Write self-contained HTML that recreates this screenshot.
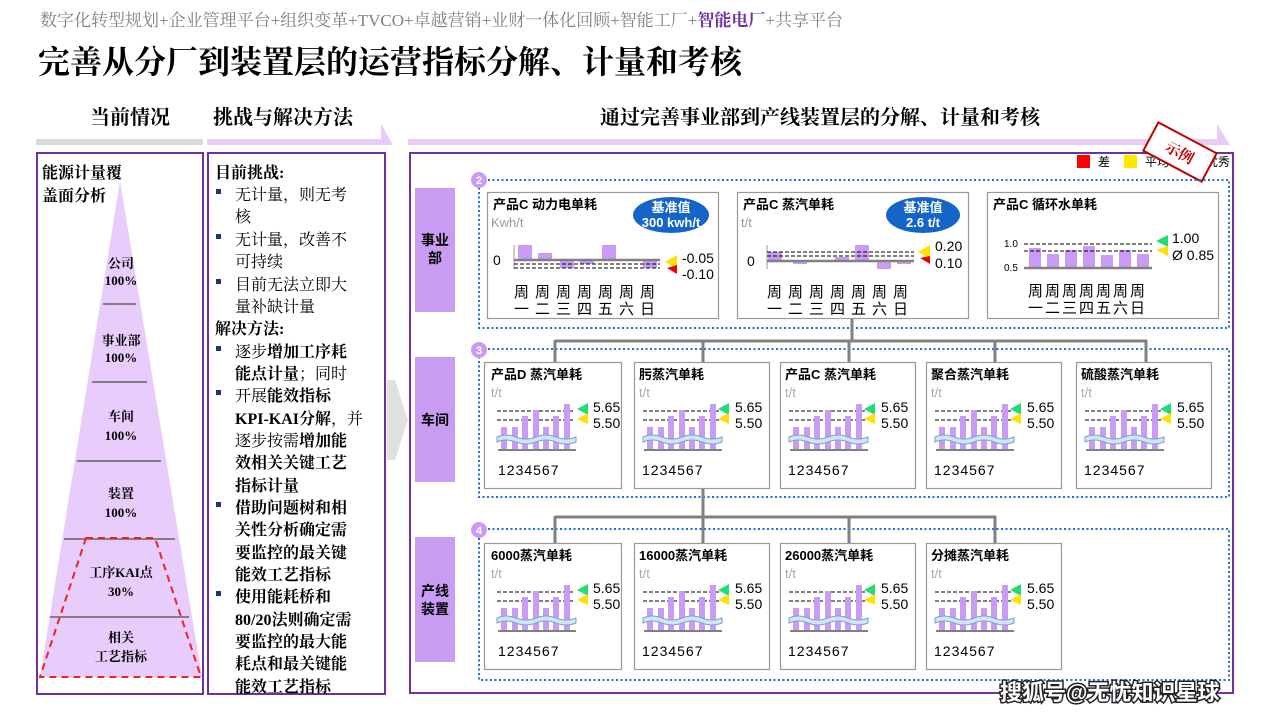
<!DOCTYPE html>
<html><head><meta charset="utf-8">
<style>
body{margin:0;width:1280px;height:720px;overflow:hidden;background:#fff;}
svg{display:block;}
.sf{font-family:"Liberation Serif","Noto Serif CJK SC",serif;}
.ss{font-family:"Liberation Sans","Noto Sans CJK SC",sans-serif;}
</style></head><body>
<svg width="1280" height="720" viewBox="0 0 1280 720" xmlns="http://www.w3.org/2000/svg">
<defs>
<g id="chart">
  <line x1="13" y1="49" x2="90" y2="49" stroke="#000" stroke-width="1" stroke-dasharray="4,2"/>
  <line x1="13" y1="58" x2="90" y2="58" stroke="#000" stroke-width="1" stroke-dasharray="4,2"/>
  <g fill="#c89cf5">
    <rect x="17" y="65" width="6" height="23"/><rect x="28" y="65" width="6" height="23"/>
    <rect x="38" y="54" width="6" height="34"/><rect x="49" y="48" width="6" height="40"/>
    <rect x="59" y="65" width="6" height="23"/><rect x="69" y="54" width="6" height="34"/>
    <rect x="80" y="42" width="6" height="46"/>
  </g>
  <path d="M13 75 Q22 71 32 75 T52 75 T72 75 T92 75 L92 80 Q82 84 72 80 T52 80 T32 80 T13 80 Z" fill="#cfe6f8" stroke="#7f9fc4" stroke-width="1"/>
  <line x1="14" y1="88" x2="92" y2="88" stroke="#808080" stroke-width="2"/>
</g>
<g id="tri">
  <polygon points="0,6 11,0 11,12" fill="#22dd77"/>
  <polygon points="0,16 11,10 11,21" fill="#ffe000"/>
</g>
<g id="mini">
  <rect x="0.5" y="0.5" width="137" height="126" fill="#fff" stroke="#999" stroke-width="1.2"/>
  <use href="#chart"/>
  <use href="#tri" x="93" y="41"/>
</g>
<g id="mini2">
  <rect x="0.5" y="0.5" width="135" height="126" fill="#fff" stroke="#999" stroke-width="1.2"/>
  <use href="#chart" x="-4"/>
  <use href="#tri" x="84" y="41"/>
</g>
</defs>

<!-- header -->
<text x="40" y="26" class="sf" font-size="17" fill="#808080">数字化转型规划+企业管理平台+组织变革+TVCO+卓越营销+业财一体化回顾+智能工厂+<tspan fill="#7030a0" font-weight="bold">智能电厂</tspan>+共享平台</text>
<text x="38" y="73" class="sf" font-size="32" font-weight="bold" fill="#000">完善从分厂到装置层的运营指标分解、计量和考核</text>

<text x="90" y="124" class="sf" font-size="20" font-weight="bold">当前情况</text>
<text x="213" y="124" class="sf" font-size="20" font-weight="bold">挑战与解决方法</text>
<text x="600" y="124" class="sf" font-size="20" font-weight="bold">通过完善事业部到产线装置层的分解、计量和考核</text>
<rect x="36" y="139" width="167" height="6" fill="#d9d9d9"/>
<polygon points="207,139 381,139 381,124 393,145 207,145" fill="#e8ccf8"/>
<polygon points="408,139 1217,139 1217,124 1230,145 408,145" fill="#e8ccf8"/>

<!-- left panel -->
<rect x="37" y="153" width="166" height="541" fill="#fff" stroke="#7030a0" stroke-width="2"/>
<text x="42" y="178" class="sf" font-size="16" font-weight="bold">能源计量覆</text>
<text x="42" y="201" class="sf" font-size="16" font-weight="bold">盖面分析</text>
<polygon points="120,181 40,677 202,677" fill="#e8ccfb"/>
<g stroke="#808080" stroke-width="2">
<line x1="103" y1="304" x2="136" y2="304"/><line x1="92" y1="382" x2="147" y2="382"/>
<line x1="77" y1="461" x2="161" y2="461"/><line x1="64" y1="539" x2="175" y2="539"/>
<line x1="50" y1="617" x2="189" y2="617"/>
</g>
<polygon points="86,538 155,538 201,677 40,677" fill="none" stroke="#ee2222" stroke-width="2" stroke-dasharray="7,5"/>
<g class="sf" font-size="13" font-weight="bold" text-anchor="middle">
<text x="121" y="268">公司</text><text x="121" y="285">100%</text>
<text x="121" y="345">事业部</text><text x="121" y="362">100%</text>
<text x="121" y="421">车间</text><text x="121" y="440">100%</text>
<text x="121" y="498">装置</text><text x="121" y="517">100%</text>
<text x="121" y="577">工序KAI点</text><text x="121" y="596">30%</text>
<text x="121" y="642">相关</text><text x="121" y="661">工艺指标</text>
</g>

<!-- middle panel -->
<rect x="208" y="153" width="177" height="541" fill="#fff" stroke="#7030a0" stroke-width="2"/>
<g class="sf" font-size="16">
<text x="215" y="178" font-weight="bold">目前挑战:</text>
<text x="235" y="200">无计量，则无考</text>
<text x="235" y="222">核</text>
<text x="235" y="245">无计量，改善不</text>
<text x="235" y="267">可持续</text>
<text x="235" y="290">目前无法立即大</text>
<text x="235" y="312">量补缺计量</text>
<text x="215" y="334" font-weight="bold">解决方法:</text>
<text x="235" y="357">逐步<tspan font-weight="bold">增加工序耗</tspan></text>
<text x="235" y="379"><tspan font-weight="bold">能点计量</tspan>；同时</text>
<text x="235" y="401">开展<tspan font-weight="bold">能效指标</tspan></text>
<text x="235" y="424" font-weight="bold">KPI-KAI分解<tspan font-weight="normal">，并</tspan></text>
<text x="235" y="446">逐步按需<tspan font-weight="bold">增加能</tspan></text>
<text x="235" y="468" font-weight="bold">效相关关键工艺</text>
<text x="235" y="491" font-weight="bold">指标计量</text>
<text x="235" y="513" font-weight="bold">借助问题树和相</text>
<text x="235" y="535" font-weight="bold">关性分析确定需</text>
<text x="235" y="558" font-weight="bold">要监控的最关键</text>
<text x="235" y="580" font-weight="bold">能效工艺指标</text>
<text x="235" y="602" font-weight="bold">使用能耗桥和</text>
<text x="235" y="625" font-weight="bold">80/20法则确定需</text>
<text x="235" y="647" font-weight="bold">要监控的最大能</text>
<text x="235" y="669" font-weight="bold">耗点和最关键能</text>
<text x="235" y="692" font-weight="bold">能效工艺指标</text>
</g>
<g fill="#1f3864">
<rect x="216" y="189" width="5" height="5"/><rect x="216" y="234" width="5" height="5"/><rect x="216" y="279" width="5" height="5"/>
<rect x="216" y="346" width="5" height="5"/><rect x="216" y="390" width="5" height="5"/><rect x="216" y="502" width="5" height="5"/>
<rect x="216" y="591" width="5" height="5"/>
</g>

<!-- chevron -->
<polygon points="387,380 395,380 408,420 395,460 387,460" fill="#e0e0e0"/>

<!-- right panel -->
<rect x="410" y="153" width="823" height="540" fill="#fff" stroke="#7030a0" stroke-width="2"/>
<rect x="1077" y="155" width="13" height="13" fill="#ff0000"/>
<text x="1098" y="166" class="ss" font-size="12">差</text>
<rect x="1124" y="155" width="13" height="13" fill="#ffe800"/>
<text x="1145" y="166" class="ss" font-size="12">平均</text>
<text x="1206" y="166" class="ss" font-size="12">优秀</text>
<g transform="translate(1180,152) rotate(28)">
<rect x="-33" y="-16" width="66" height="32" fill="#fff" stroke="#c00000" stroke-width="2"/>
<text x="0" y="6" text-anchor="middle" class="sf" font-size="15" font-weight="bold" fill="#c00000">示例</text>
</g>

<!-- row labels -->
<g fill="#c99cf3">
<rect x="415" y="188" width="40" height="124"/>
<rect x="415" y="357" width="40" height="125"/>
<rect x="415" y="537" width="40" height="125"/>
</g>
<g class="ss" font-size="14" font-weight="bold" text-anchor="middle">
<text x="435" y="245">事业</text><text x="435" y="263">部</text>
<text x="435" y="425">车间</text>
<text x="435" y="596">产线</text><text x="435" y="614">装置</text>
</g>

<!-- dotted boxes -->
<g fill="none" stroke="#1f6fd6" stroke-width="2" stroke-dasharray="2,2.5">
<rect x="479" y="180" width="750" height="148"/>
<rect x="479" y="349" width="750" height="148"/>
<rect x="479" y="529" width="750" height="151"/>
</g>
<g fill="#c99cf3"><circle cx="479" cy="180" r="8"/><circle cx="479" cy="350" r="8"/><circle cx="479" cy="530" r="8"/></g>
<g class="ss" font-size="11" font-weight="bold" fill="#fff" text-anchor="middle">
<text x="479" y="184">2</text><text x="479" y="354">3</text><text x="479" y="534">4</text></g>

<!-- connectors -->
<g stroke="#808080" stroke-width="3" fill="none">
<line x1="852" y1="318" x2="852" y2="341"/>
<line x1="555" y1="341" x2="1147" y2="341"/>
<line x1="555" y1="340" x2="555" y2="363"/><line x1="703" y1="340" x2="703" y2="363"/>
<line x1="849" y1="340" x2="849" y2="363"/><line x1="995" y1="340" x2="995" y2="363"/>
<line x1="1146" y1="340" x2="1146" y2="363"/>
<line x1="703" y1="489" x2="703" y2="517"/>
<line x1="555" y1="517" x2="996" y2="517"/>
<line x1="555" y1="516" x2="555" y2="543"/><line x1="703" y1="516" x2="703" y2="543"/>
<line x1="849" y1="516" x2="849" y2="543"/><line x1="995" y1="516" x2="995" y2="543"/>
</g>

<!-- row1 card1 -->
<rect x="487.5" y="192.5" width="231" height="126" fill="#fff" stroke="#999" stroke-width="1.2"/>
<text x="493" y="209" class="ss" font-size="13" font-weight="bold">产品C 动力电单耗</text>
<text x="491" y="227" class="ss" font-size="13" fill="#999">Kwh/t</text>
<ellipse cx="671" cy="215" rx="38" ry="18" fill="#1565c8"/>
<text x="671" y="212" text-anchor="middle" class="ss" font-size="13" font-weight="bold" fill="#fff">基准值</text>
<text x="671" y="227" text-anchor="middle" class="ss" font-size="13" font-weight="bold" fill="#fff">300 kwh/t</text>
<g fill="#c89cf5">
<rect x="518" y="245" width="14" height="15"/><rect x="538" y="253" width="14" height="7"/>
<rect x="560" y="260" width="14" height="8"/><rect x="580" y="260" width="14" height="4"/>
<rect x="602" y="245" width="14" height="15"/><rect x="643" y="260" width="14" height="8"/>
</g>
<line x1="514" y1="245" x2="514" y2="269" stroke="#999" stroke-width="1"/>
<line x1="514" y1="260" x2="660" y2="260" stroke="#808080" stroke-width="2.5"/>
<line x1="514" y1="264" x2="660" y2="264" stroke="#000" stroke-dasharray="4,2"/>
<line x1="514" y1="268" x2="660" y2="268" stroke="#000" stroke-dasharray="4,2"/>
<text x="493" y="265" class="ss" font-size="14">0</text>
<polygon points="665,262 677,255 677,268" fill="#ffe000"/>
<polygon points="667,268 677,265 677,274" fill="#ee0000"/>
<text x="682" y="263" class="ss" font-size="14">-0.05</text>
<text x="682" y="279" class="ss" font-size="14">-0.10</text>
<text x="514" y="297" class="ss" font-size="15" letter-spacing="6">周周周周周周周</text>
<text x="514" y="314" class="ss" font-size="15" letter-spacing="6">一二三四五六日</text>

<!-- row1 card2 -->
<rect x="737.5" y="192.5" width="231" height="126" fill="#fff" stroke="#999" stroke-width="1.2"/>
<text x="743" y="209" class="ss" font-size="13" font-weight="bold">产品C 蒸汽单耗</text>
<text x="741" y="227" class="ss" font-size="13" fill="#999">t/t</text>
<ellipse cx="923" cy="215" rx="37" ry="18" fill="#1565c8"/>
<text x="923" y="212" text-anchor="middle" class="ss" font-size="13" font-weight="bold" fill="#fff">基准值</text>
<text x="923" y="227" text-anchor="middle" class="ss" font-size="13" font-weight="bold" fill="#fff">2.6 t/t</text>
<g fill="#c89cf5">
<rect x="768" y="252" width="14" height="9"/><rect x="793" y="261" width="14" height="3"/>
<rect x="835" y="257" width="14" height="4"/><rect x="855" y="245" width="14" height="16"/>
<rect x="877" y="261" width="14" height="8"/><rect x="897" y="261" width="14" height="3"/>
</g>
<line x1="767" y1="245" x2="767" y2="269" stroke="#999" stroke-width="1"/>
<line x1="767" y1="261" x2="914" y2="261" stroke="#808080" stroke-width="2.5"/>
<line x1="767" y1="252" x2="914" y2="252" stroke="#000" stroke-dasharray="4,2"/>
<line x1="767" y1="256" x2="914" y2="256" stroke="#000" stroke-dasharray="4,2"/>
<text x="747" y="266" class="ss" font-size="14">0</text>
<polygon points="918,252 930,245 930,258" fill="#ffe000"/>
<polygon points="920,258 930,256 930,264" fill="#ee0000"/>
<text x="935" y="251" class="ss" font-size="14">0.20</text>
<text x="935" y="268" class="ss" font-size="14">0.10</text>
<text x="767" y="297" class="ss" font-size="15" letter-spacing="6">周周周周周周周</text>
<text x="767" y="314" class="ss" font-size="15" letter-spacing="6">一二三四五六日</text>

<!-- row1 card3 -->
<rect x="987.5" y="192.5" width="231" height="126" fill="#fff" stroke="#999" stroke-width="1.2"/>
<text x="993" y="209" class="ss" font-size="13" font-weight="bold">产品C 循环水单耗</text>
<g fill="#c89cf5">
<rect x="1029" y="248" width="12" height="20"/><rect x="1047" y="254" width="12" height="14"/>
<rect x="1065" y="250" width="12" height="18"/><rect x="1083" y="246" width="12" height="22"/>
<rect x="1101" y="255" width="12" height="13"/><rect x="1119" y="250" width="12" height="18"/>
<rect x="1137" y="254" width="12" height="14"/>
</g>
<line x1="1024" y1="244" x2="1152" y2="244" stroke="#000" stroke-dasharray="4,2"/>
<line x1="1024" y1="251" x2="1152" y2="251" stroke="#000" stroke-dasharray="4,2"/>
<line x1="1024" y1="268" x2="1152" y2="268" stroke="#808080" stroke-width="2.5"/>
<text x="1004" y="247" class="ss" font-size="10">1.0</text>
<text x="1004" y="271" class="ss" font-size="10">0.5</text>
<polygon points="1156,241 1168,235 1168,247" fill="#22dd77"/>
<polygon points="1156,250 1168,246 1168,256" fill="#ffe000"/>
<text x="1172" y="243" class="ss" font-size="14">1.00</text>
<text x="1172" y="260" class="ss" font-size="14">Ø 0.85</text>
<text x="1028" y="296" class="ss" font-size="15" letter-spacing="2">周周周周周周周</text>
<text x="1028" y="313" class="ss" font-size="15" letter-spacing="2">一二三四五六日</text>

<!-- row2 -->
<g class="ss">
<g transform="translate(484,362)"><use href="#mini"/><text x="7" y="17" font-size="13" font-weight="bold">产品D 蒸汽单耗</text><text x="7" y="35" font-size="13" fill="#aaa">t/t</text><text x="109" y="50" font-size="14">5.65</text><text x="109" y="66" font-size="14">5.50</text><text x="14" y="113" font-size="14" letter-spacing="1">1234567</text></g>
<g transform="translate(634,362)"><use href="#mini2"/><text x="5" y="17" font-size="13" font-weight="bold">肟蒸汽单耗</text><text x="5" y="35" font-size="13" fill="#aaa">t/t</text><text x="101" y="50" font-size="14">5.65</text><text x="101" y="66" font-size="14">5.50</text><text x="8" y="113" font-size="14" letter-spacing="1">1234567</text></g>
<g transform="translate(780,362)"><use href="#mini2"/><text x="5" y="17" font-size="13" font-weight="bold">产品C 蒸汽单耗</text><text x="5" y="35" font-size="13" fill="#aaa">t/t</text><text x="101" y="50" font-size="14">5.65</text><text x="101" y="66" font-size="14">5.50</text><text x="8" y="113" font-size="14" letter-spacing="1">1234567</text></g>
<g transform="translate(926,362)"><use href="#mini2"/><text x="5" y="17" font-size="13" font-weight="bold">聚合蒸汽单耗</text><text x="5" y="35" font-size="13" fill="#aaa">t/t</text><text x="101" y="50" font-size="14">5.65</text><text x="101" y="66" font-size="14">5.50</text><text x="8" y="113" font-size="14" letter-spacing="1">1234567</text></g>
<g transform="translate(1076,362)"><use href="#mini2"/><text x="5" y="17" font-size="13" font-weight="bold">硫酸蒸汽单耗</text><text x="5" y="35" font-size="13" fill="#aaa">t/t</text><text x="101" y="50" font-size="14">5.65</text><text x="101" y="66" font-size="14">5.50</text><text x="8" y="113" font-size="14" letter-spacing="1">1234567</text></g>
</g>

<!-- row3 -->
<g class="ss">
<g transform="translate(484,543)"><use href="#mini"/><text x="7" y="17" font-size="13" font-weight="bold">6000蒸汽单耗</text><text x="7" y="35" font-size="13" fill="#aaa">t/t</text><text x="109" y="50" font-size="14">5.65</text><text x="109" y="66" font-size="14">5.50</text><text x="14" y="113" font-size="14" letter-spacing="1">1234567</text></g>
<g transform="translate(634,543)"><use href="#mini2"/><text x="5" y="17" font-size="13" font-weight="bold">16000蒸汽单耗</text><text x="5" y="35" font-size="13" fill="#aaa">t/t</text><text x="101" y="50" font-size="14">5.65</text><text x="101" y="66" font-size="14">5.50</text><text x="8" y="113" font-size="14" letter-spacing="1">1234567</text></g>
<g transform="translate(780,543)"><use href="#mini2"/><text x="5" y="17" font-size="13" font-weight="bold">26000蒸汽单耗</text><text x="5" y="35" font-size="13" fill="#aaa">t/t</text><text x="101" y="50" font-size="14">5.65</text><text x="101" y="66" font-size="14">5.50</text><text x="8" y="113" font-size="14" letter-spacing="1">1234567</text></g>
<g transform="translate(926,543)"><use href="#mini2"/><text x="5" y="17" font-size="13" font-weight="bold">分摊蒸汽单耗</text><text x="5" y="35" font-size="13" fill="#aaa">t/t</text><text x="101" y="50" font-size="14">5.65</text><text x="101" y="66" font-size="14">5.50</text><text x="8" y="113" font-size="14" letter-spacing="1">1234567</text></g>
</g>

<!-- watermark -->
<text x="1000" y="700" class="ss" font-size="22" font-weight="bold" fill="#fff" stroke="#222" stroke-width="3" paint-order="stroke">搜狐号@无忧知识星球</text>
</svg>
</body></html>
